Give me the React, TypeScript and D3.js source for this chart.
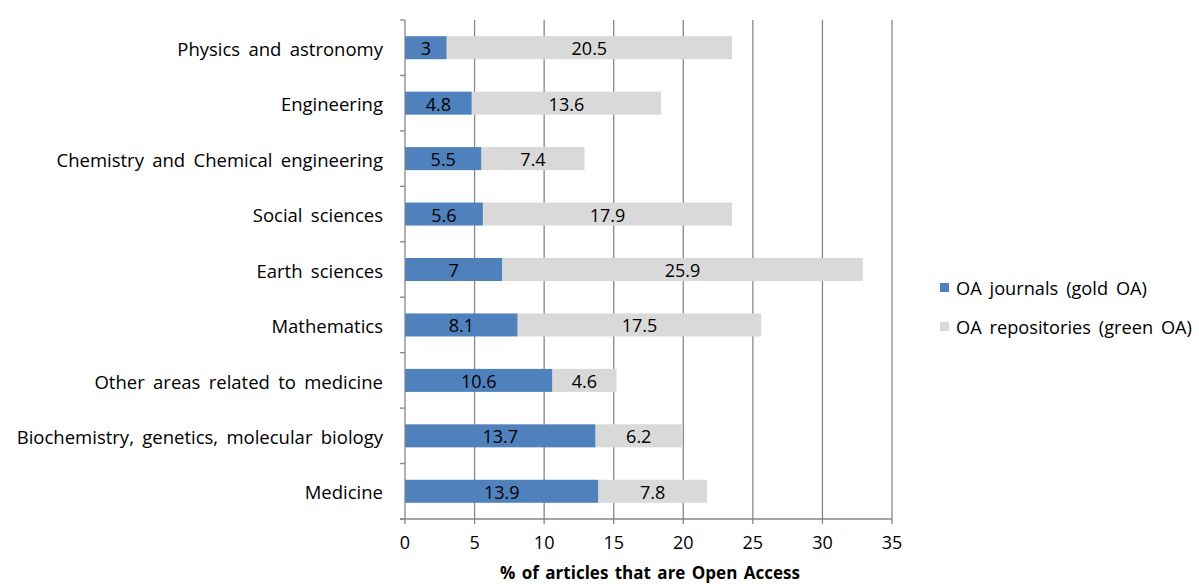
import React from "react";
import * as d3 from "d3";

const categories = [
  "Physics and astronomy",
  "Engineering",
  "Chemistry and Chemical engineering",
  "Social sciences",
  "Earth sciences",
  "Mathematics",
  "Other areas related to medicine",
  "Biochemistry, genetics, molecular biology",
  "Medicine",
];
const goldOA = [3, 4.8, 5.5, 5.6, 7, 8.1, 10.6, 13.7, 13.9];
const greenOA = [20.5, 13.6, 7.4, 17.9, 25.9, 17.5, 4.6, 6.2, 7.8];
const xTicks = [0, 5, 10, 15, 20, 25, 30, 35];
const seriesNames = ["OA journals (gold OA)", "OA repositories (green OA)"];
const seriesColors = ["#4F81BD", "#D9D9D9"];

const W = 1199;
const H = 584;
const left = 405;
const right = 892;
const top = 20;
const bottom = 519;
const font = "'Open Sans', sans-serif";
const axisColor = "#878787";
const fs = 18;

export default function App() {
  const x = d3.scaleLinear().domain([0, 35]).range([left, right]);
  const y = d3.scaleBand<string>().domain(categories).range([top, bottom]).paddingInner(0.585).paddingOuter(0.2925);
  const band = d3.scaleBand<string>().domain(categories).range([top, bottom]);
  const bh = y.bandwidth();

  return (
    <svg width={W} height={H} style={{ display: "block", position: "absolute", left: 0, top: 0 }} fontFamily={font}>
      <rect width={W} height={H} fill="#fff" />
      {/* vertical gridlines */}
      {xTicks.slice(1).map((t) => (
        <line key={t} x1={x(t)} x2={x(t)} y1={top} y2={bottom} stroke={axisColor} strokeWidth={1.3} />
      ))}
      {/* bars */}
      {categories.map((c, i) => {
        const y0 = y(c)!;
        const g = goldOA[i];
        const gr = greenOA[i];
        return (
          <g key={c}>
            <rect x={x(0)} y={y0} width={x(g) - x(0)} height={bh} fill={seriesColors[0]} />
            <rect x={x(g)} y={y0} width={x(g + gr) - x(g)} height={bh} fill={seriesColors[1]} />
            <text x={(x(0) + x(g)) / 2} y={y0 + bh / 2 + 1} dy="0.36em" textAnchor="middle" fontSize={fs} fill="#000">{g}</text>
            <text x={(x(g) + x(g + gr)) / 2} y={y0 + bh / 2 + 1} dy="0.36em" textAnchor="middle" fontSize={fs} fill="#000">{gr}</text>
            <text x={383} y={band(c)! + band.bandwidth() / 2 + 1.5} dy="0.36em" textAnchor="end" fontSize={18.5} wordSpacing={3.5} fill="#000">{c}</text>
          </g>
        );
      })}
      {/* category axis */}
      <line x1={left} x2={left} y1={top} y2={bottom} stroke={axisColor} strokeWidth={1.3} />
      {[...categories.map((c) => band(c)!), bottom].map((v, i) => (
        <line key={i} x1={left - 5} x2={left} y1={v} y2={v} stroke={axisColor} strokeWidth={1.3} />
      ))}
      {/* value axis */}
      <line x1={left - 5} x2={right} y1={bottom} y2={bottom} stroke={axisColor} strokeWidth={1.3} />
      {xTicks.map((t) => (
        <g key={t}>
          <line x1={x(t)} x2={x(t)} y1={bottom} y2={bottom + 5} stroke={axisColor} strokeWidth={1.3} />
          <text x={x(t)} y={543} dy="0.36em" textAnchor="middle" fontSize={fs} fill="#000">{t}</text>
        </g>
      ))}
      <text x={650} y={573} dy="0.36em" textAnchor="middle" fontSize={17} fontWeight="bold" wordSpacing={2} fill="#000">% of articles that are Open Access</text>
      {/* legend */}
      {seriesNames.map((s, i) => (
        <g key={s}>
          <rect x={940} y={283 + i * 39} width={9} height={9} fill={seriesColors[i]} />
          <text x={956} y={288.5 + i * 39} dy="0.36em" fontSize={18.2} wordSpacing={3.2} fill="#000">{s}</text>
        </g>
      ))}
    </svg>
  );
}
